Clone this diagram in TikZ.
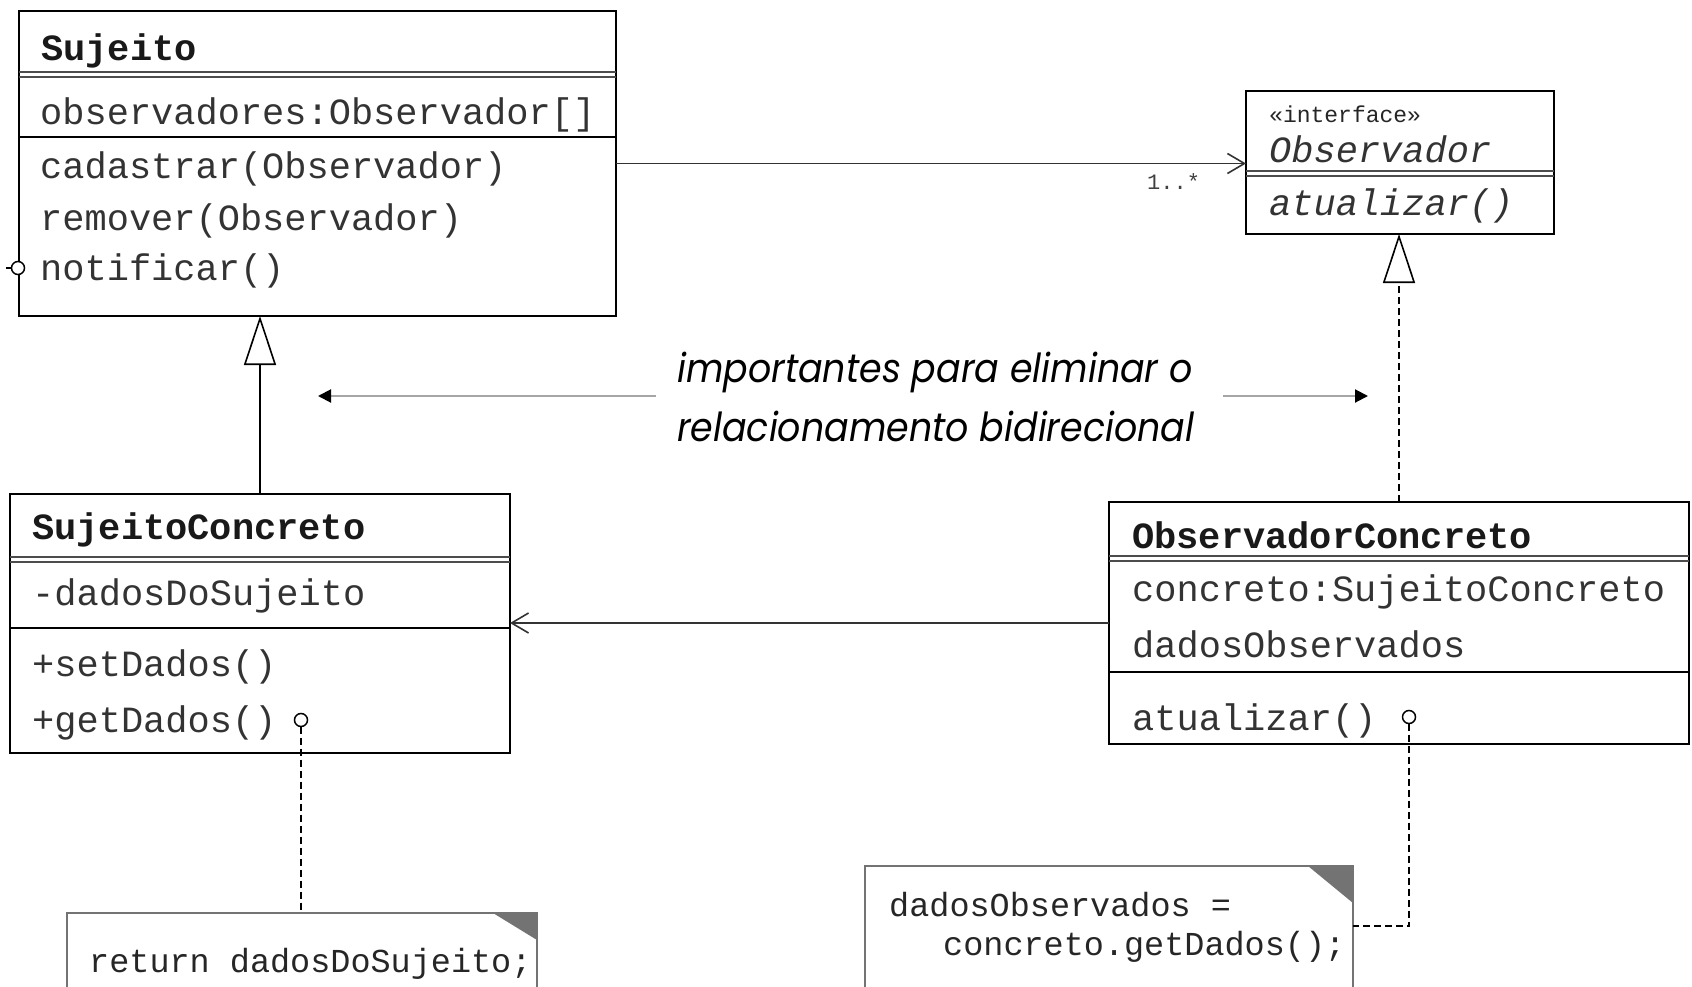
\documentclass[tikz,border=0pt]{standalone}
\usepackage{fontspec}
\usetikzlibrary{arrows.meta}
\newfontfamily\umlmono{Liberation Mono}
\newfontfamily\futfont[FakeStretch=0.91]{Poppins}
\begin{document}
\begin{tikzpicture}[x=1pt,y=-1pt,
  umlbox/.style={draw, line width=2pt, inner sep=0pt, outer sep=0pt, anchor=north west},
  sepline/.style={line width=1.8pt},
  dblline/.style={line width=1.6pt, black!70},
  mtxt/.style={font=\umlmono\fontsize{37}{44}\selectfont, inner sep=0pt, anchor=base west, text=black!80},
  btxt/.style={font=\umlmono\bfseries\fontsize{37}{44}\selectfont, inner sep=0pt, anchor=base west, text=black!90},
  itxt/.style={font=\umlmono\itshape\fontsize{37}{44}\selectfont, inner sep=0pt, anchor=base west, text=black!80},
  ntxt/.style={font=\umlmono\fontsize{33.5}{40}\selectfont, inner sep=0pt, anchor=base west, text=black!85},
  conn/.style={line width=1.6pt, black!80},
  dconn/.style={line width=1.6pt, dash pattern=on 7pt off 4pt},
  port/.style={circle, draw, line width=1.5pt, fill=white, minimum size=13pt, inner sep=0pt, outer sep=0pt},
  notebox/.style={draw=black!55, line width=1.6pt},
  midtxt/.style={font=\futfont\itshape\fontsize{40}{57}\selectfont, inner sep=0pt, anchor=base west},
  midarrow/.style={line width=2pt, black!35, -{Triangle[length=13pt,width=13pt,black]}}
]
\useasboundingbox (0,0) rectangle (1692,987);
\clip (0,0) rectangle (1692,987);

% ---------- Sujeito ----------
\node[umlbox, minimum width=597pt, minimum height=305pt] (suj) at (19,11) {};
\draw[dblline] (suj.west |- 0,72) -- (suj.east |- 0,72);
\draw[dblline] (suj.west |- 0,77) -- (suj.east |- 0,77);
\draw[sepline] (suj.west |- 0,137) -- (suj.east |- 0,137);
\node[btxt] (sujT) at (41,61) {Sujeito};
\node[mtxt] (sujA) at (40,125) {observadores:Observador[]};
\node[mtxt] (sujM1) at (40,179) {cadastrar(Observador)};
\node[mtxt] (sujM2) at (40,231) {remover(Observador)};
\node[mtxt] (sujM3) at (40,280) {notificar()};
\node[port] (notif) at (18,268) {};
\draw[line width=1.5pt] (notif.west) -- ++(-6,0);

% ---------- Observador ----------
\node[umlbox, minimum width=308pt, minimum height=143pt] (obs) at (1246,91) {};
\draw[dblline] (obs.west |- 0,171) -- (obs.east |- 0,171);
\draw[dblline] (obs.west |- 0,176) -- (obs.east |- 0,176);
\node[font=\umlmono\fontsize{23}{28}\selectfont, inner sep=0pt, anchor=base west, text=black!85] (obsS) at (1269,123) {«interface»};
\node[itxt] (obsT) at (1269,163) {Observador};
\node[itxt] (obsM) at (1269,215) {atualizar()};

% ---------- SujeitoConcreto ----------
\node[umlbox, minimum width=500pt, minimum height=259pt] (sujc) at (10,494) {};
\draw[dblline] (sujc.west |- 0,557) -- (sujc.east |- 0,557);
\draw[dblline] (sujc.west |- 0,562) -- (sujc.east |- 0,562);
\draw[sepline] (sujc.west |- 0,628) -- (sujc.east |- 0,628);
\node[btxt] (sujcT) at (32,539) {SujeitoConcreto};
\node[mtxt] (sujcA) at (32,605) {-dadosDoSujeito};
\node[mtxt] (sujcM1) at (32,676) {+setDados()};
\node[mtxt] (sujcM2) at (32,732) {+getDados()};
\node[port] (getd) at (301,720) {};

% ---------- ObservadorConcreto ----------
\node[umlbox, minimum width=580pt, minimum height=242pt] (obsc) at (1109,502) {};
\draw[dblline] (obsc.west |- 0,556) -- (obsc.east |- 0,556);
\draw[dblline] (obsc.west |- 0,561) -- (obsc.east |- 0,561);
\draw[sepline] (obsc.west |- 0,672) -- (obsc.east |- 0,672);
\node[btxt] (obscT) at (1132,548) {ObservadorConcreto};
\node[mtxt] (obscA1) at (1132,601) {concreto:SujeitoConcreto};
\node[mtxt] (obscA2) at (1132,657) {dadosObservados};
\node[mtxt] (obscM) at (1132,730) {atualizar()};
\node[port] (atu) at (1409,717) {};

% ---------- relations ----------
\draw[conn, -{Straight Barb[length=17pt,width=20pt,line width=1.6pt]}] (suj.east) -- (suj.east -| obs.west);
\node[font=\umlmono\fontsize{22}{26}\selectfont, inner sep=0pt, anchor=base west, text=black!75] (mult) at (1147,190) {1..*};
\draw[conn, -{Straight Barb[length=17pt,width=20pt,line width=1.6pt]}] (obsc.west) -- (obsc.west -| sujc.east);
\draw[line width=1.8pt, -{Triangle[open, length=49pt, width=32pt, line width=1.6pt]}] (sujc.north) -- (sujc.north |- suj.south);
\draw[dconn, -{Triangle[open, length=49pt, width=32pt, line width=1.6pt]}] (obsc.north) -- (obsc.north |- obs.south);

% ---------- middle annotation ----------
\node[midtxt] (imp1) at (677,382) {importantes para eliminar o};
\node[midtxt] (imp2) at (677,441) {relacionamento bidirecional};
\coordinate (la1) at (656,396);
\coordinate (la2) at (318,396);
\coordinate (ra1) at (1223,396);
\coordinate (ra2) at (1368,396);
\draw[midarrow] (la1) -- (la2);
\draw[midarrow] (ra1) -- (ra2);

% ---------- notes ----------
\draw[notebox] (67,995) -- (67,913) -- (537,913) -- (537,995);
\fill[black!55] (493,913) -- (537,913) -- (537,940) -- cycle;
\node[ntxt] (note1) at (89,972) {return dadosDoSujeito;};
\coordinate (n1top) at (300,913);
\draw[dconn] (getd.south) -- (getd.south |- n1top);

\draw[notebox] (865,995) -- (865,866) -- (1353,866) -- (1353,995);
\fill[black!55] (1308,866) -- (1353,866) -- (1353,903) -- cycle;
\node[ntxt] (note2a) at (889,916) {dadosObservados =};
\node[ntxt] (note2b) at (943,955) {concreto.getDados();};
\coordinate (n2r) at (1353,926);
\draw[dconn] (atu.south) |- (n2r);
\end{tikzpicture}
\end{document}
